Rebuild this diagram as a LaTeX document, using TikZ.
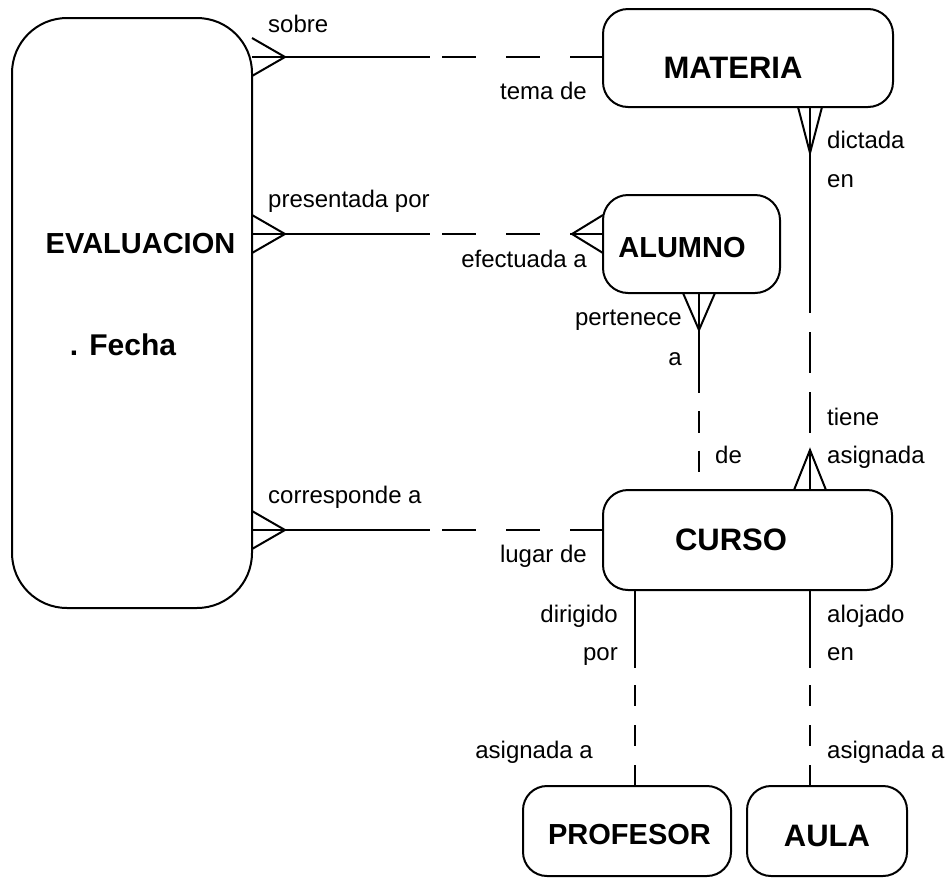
\documentclass[tikz,border=0pt]{standalone}
\usepackage{fontspec}
\setmainfont{Liberation Sans}
\usetikzlibrary{calc}
\begin{document}
\begin{tikzpicture}[x=1pt,y=-1pt,
  ent/.style={draw, line width=2pt, rounded corners=25pt, inner sep=0pt, outer sep=0pt},
  etxt/.style={inner sep=0pt, anchor=base, font=\fontsize{#1}{#1}\selectfont\bfseries},
  etxt/.default=29,
  lbl/.style={inner sep=0pt, font=\fontsize{24}{24}\selectfont},
  rel/.style={line width=2pt},
  hdash/.style={rel, dash pattern=on 34pt off 30pt, dash phase=52pt},
  vdashA/.style={rel, dash pattern=on 41pt off 19pt, dash phase=41pt},
  vdashB/.style={rel, dash pattern=on 21.5pt off 18pt, dash phase=21.5pt},
  vdashC/.style={rel, dash pattern=on 21pt off 19pt, dash phase=23pt}]
\useasboundingbox (0,0) rectangle (948,884);

% entities
\node[ent, rounded corners=55pt, minimum width=240pt, minimum height=590pt] (eval) at (132,313) {};
\node[ent, minimum width=290pt, minimum height=98pt] (mat) at (748,58) {};
\node[ent, minimum width=177pt, minimum height=98pt] (alu) at (691.5,244) {};
\node[ent, minimum width=289pt, minimum height=100pt] (cur) at (747.5,540) {};
\node[ent, rounded corners=24pt, minimum width=208pt, minimum height=90pt] (prof) at (627,831) {};
\node[ent, rounded corners=24pt, minimum width=160pt, minimum height=90pt] (aula) at (827,831) {};

% entity names
\node[etxt] (evalT) at (140.5,253) {EVALUACION};
\node[etxt=30] (evalF) at (123,355) {. Fecha};
\node[etxt=31] (matT) at (733,78) {MATERIA};
\node[etxt] (aluT) at (682,257) {ALUMNO};
\node[etxt=31] (curT) at (731,550) {CURSO};
\node[etxt] (profT) at (629.5,844) {PROFESOR};
\node[etxt=31] (aulaT) at (827,846) {AULA};

% EVALUACION -- MATERIA
\coordinate (m1) at (430,57);
\coordinate (t1) at (285,57);
\draw[rel] (eval.east |- m1) -- (m1);
\draw[hdash] (m1) -- (mat.west |- m1);
\draw[rel] ($(eval.east |- t1)+(0,-19)$) -- (t1) -- ($(eval.east |- t1)+(0,19)$);

% EVALUACION -- ALUMNO
\coordinate (m2) at (430,234);
\coordinate (t2) at (285,234);
\coordinate (u2) at (572,234);
\draw[rel] (eval.east |- m2) -- (m2);
\draw[hdash] (m2) -- (u2);
\draw[rel] ($(eval.east |- t2)+(0,-19)$) -- (t2) -- ($(eval.east |- t2)+(0,19)$);
\draw[rel] (u2) -- (alu.west |- u2);
\draw[rel] ($(alu.west |- u2)+(0,-19)$) -- (u2) -- ($(alu.west |- u2)+(0,19)$);

% EVALUACION -- CURSO
\coordinate (m3) at (430,530);
\coordinate (t3) at (285,530);
\draw[rel] (eval.east |- m3) -- (m3);
\draw[hdash] (m3) -- (cur.west |- m3);
\draw[rel] ($(eval.east |- t3)+(0,-19)$) -- (t3) -- ($(eval.east |- t3)+(0,19)$);

% MATERIA -- CURSO
\coordinate (m4) at (810,313);
\coordinate (t4) at (810,153);
\coordinate (u4) at (810,450);
\draw[rel] (mat.south -| m4) -- (m4);
\draw[vdashA] (m4) -- (u4);
\draw[rel] ($(mat.south -| t4)+(-12,0)$) -- (t4) -- ($(mat.south -| t4)+(12,0)$);
\draw[rel] (u4) -- (cur.north -| u4);
\draw[rel] ($(cur.north -| u4)+(-16,0)$) -- (u4) -- ($(cur.north -| u4)+(16,0)$);

% ALUMNO -- CURSO
\coordinate (m5) at (699,393);
\coordinate (t5) at (699,330);
\draw[rel] (alu.south -| m5) -- (m5);
\draw[vdashB] (m5) -- (cur.north -| m5);
\draw[rel] ($(alu.south -| t5)+(-16,0)$) -- (t5) -- ($(alu.south -| t5)+(16,0)$);

% CURSO -- PROFESOR
\coordinate (m6) at (635,668);
\draw[rel] (cur.south -| m6) -- (m6);
\draw[vdashC] (m6) -- (prof.north -| m6);

% CURSO -- AULA
\coordinate (m7) at (810,668);
\draw[rel] (cur.south -| m7) -- (m7);
\draw[vdashC] (m7) -- (aula.north -| m7);

% relationship names
\node[lbl, anchor=base west] (l1) at (268,32) {sobre};
\node[lbl, anchor=base east] (l2) at (587,99) {tema de};
\node[lbl, anchor=base west] (l3) at (268,207) {presentada por};
\node[lbl, anchor=base east] (l4) at (587,267) {efectuada a};
\node[lbl, anchor=base west] (l5) at (268,503) {corresponde a};
\node[lbl, anchor=base east] (l6) at (587,562) {lugar de};
\node[lbl, anchor=base west] (l7) at (827,148) {dictada};
\node[lbl, anchor=base west] (l8) at (827,187) {en};
\node[lbl, anchor=base east] (l9) at (682,325) {pertenece};
\node[lbl, anchor=base east] (l10) at (682,365) {a};
\node[lbl, anchor=base west] (l11) at (715,463) {de};
\node[lbl, anchor=base west] (l12) at (827,425) {tiene};
\node[lbl, anchor=base west] (l13) at (827,463) {asignada};
\node[lbl, anchor=base east] (l14) at (618,622) {dirigido};
\node[lbl, anchor=base east] (l15) at (618,660) {por};
\node[lbl, anchor=base west] (l16) at (827,622) {alojado};
\node[lbl, anchor=base west] (l17) at (827,660) {en};
\node[lbl, anchor=base east] (l18) at (593,758) {asignada a};
\node[lbl, anchor=base west] (l19) at (827,758) {asignada a};
\end{tikzpicture}
\end{document}
